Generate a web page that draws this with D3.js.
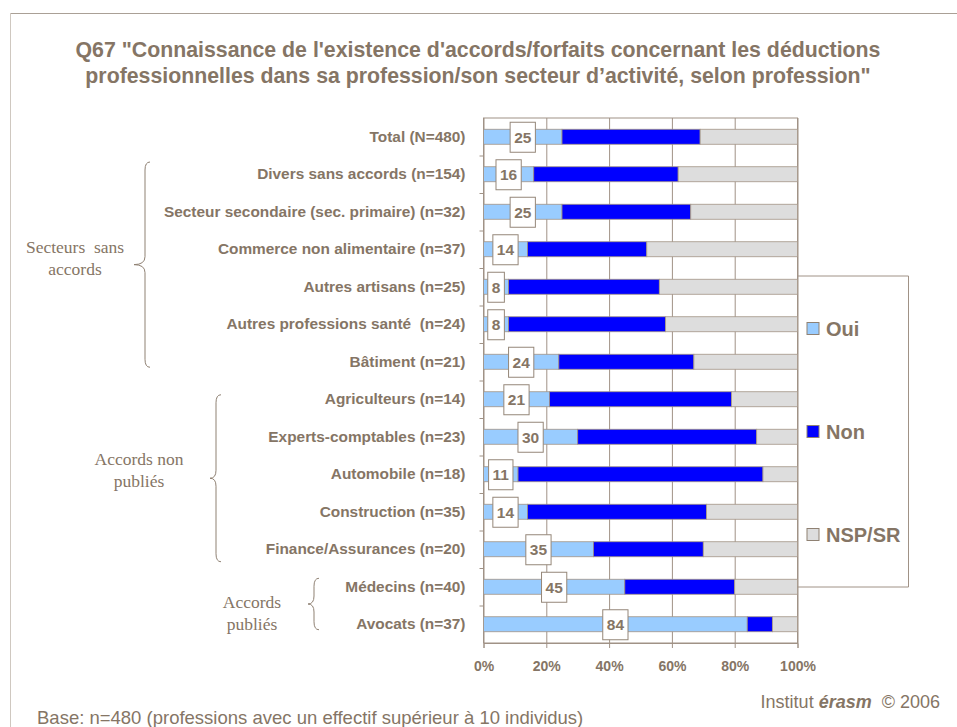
<!DOCTYPE html>
<html>
<head>
<meta charset="utf-8">
<script src="https://cdn.jsdelivr.net/npm/d3@7"></script>
<style>
  body { margin: 0; background: #fff; }
  text { font-family: "Liberation Sans", Arial, sans-serif; white-space: pre; }
</style>
</head>
<body>
<svg id="chart" width="957" height="727"></svg>
<script>
const categories = [
  'Total (N=480)',
  'Divers sans accords (n=154)',
  'Secteur secondaire (sec. primaire) (n=32)',
  'Commerce non alimentaire (n=37)',
  'Autres artisans (n=25)',
  'Autres professions santé  (n=24)',
  'Bâtiment (n=21)',
  'Agriculteurs (n=14)',
  'Experts-comptables (n=23)',
  'Automobile (n=18)',
  'Construction (n=35)',
  'Finance/Assurances (n=20)',
  'Médecins (n=40)',
  'Avocats (n=37)'
];
const oui = [25, 16, 25, 14, 8, 8, 24, 21, 30, 11, 14, 35, 45, 84];
const non = [44, 46, 41, 38, 48, 50, 43, 58, 57, 78, 57, 35, 35, 8];
const nsp = [31, 38, 34, 48, 44, 42, 33, 21, 13, 11, 29, 30, 20, 8];

const seriesKeys = ['oui', 'non', 'nsp'];
const seriesNames = ['Oui', 'Non', 'NSP/SR'];
const seriesColors = ['#99ccff', '#0000ff', '#dddddd'];
const xTicks = [0, 20, 40, 60, 80, 100];

// groupes (accolades à gauche)
const groups = [
  { lines: ['Secteurs  sans', 'accords'], from: 1, to: 6 },
  { lines: ['Accords non', 'publiés'], from: 7, to: 11 },
  { lines: ['Accords', 'publiés'], from: 12, to: 13 }
];

const textColor = '#857565';
const lineColor = '#a09286';

const svg = d3.select('#chart');
const margin = { top: 118, bottom: 643, left: 483.5, right: 797.5 };

const x = d3.scaleLinear().domain([0, 100]).range([margin.left, margin.right]);
const y = d3.scaleBand()
  .domain(categories)
  .range([margin.top, margin.bottom])
  .paddingInner(0.6)
  .paddingOuter(0.3);
const rowScale = d3.scaleLinear().domain([0, categories.length]).range([margin.top, margin.bottom]);

// cadre de la page
svg.append('line').attr('x1', 10).attr('x2', 957).attr('y1', 13.5).attr('y2', 13.5)
  .attr('stroke', '#aaa096').attr('stroke-width', 1);
svg.append('line').attr('x1', 10.5).attr('x2', 10.5).attr('y1', 13).attr('y2', 727)
  .attr('stroke', '#cfc8c0').attr('stroke-width', 1);

// titre
const title = svg.append('text')
  .attr('text-anchor', 'middle')
  .style('font-weight', 'bold')
  .style('font-size', '21.3px')
  .attr('fill', textColor);
title.append('tspan').attr('x', 478).attr('y', 57)
  .text('Q67 "Connaissance de l\'existence d\'accords/forfaits concernant les déductions');
title.append('tspan').attr('x', 478).attr('y', 83)
  .text('professionnelles dans sa profession/son secteur d\u2019activité, selon profession"');

// grille verticale
svg.append('g')
  .attr('transform', `translate(0,${margin.bottom})`)
  .call(d3.axisBottom(x).tickValues(xTicks).tickSize(-(margin.bottom - margin.top)).tickFormat(''))
  .call((g) => g.select('.domain').remove())
  .selectAll('line')
  .attr('stroke', lineColor);

// cadre du graphique
svg.append('rect')
  .attr('x', margin.left).attr('y', margin.top)
  .attr('width', margin.right - margin.left)
  .attr('height', margin.bottom - margin.top)
  .attr('fill', 'none')
  .attr('stroke', lineColor);

// barres empilées
const table = categories.map((c, i) => ({ cat: c, oui: oui[i], non: non[i], nsp: nsp[i] }));
const stacked = d3.stack().keys(seriesKeys)(table);

svg.append('g')
  .selectAll('g')
  .data(stacked)
  .enter()
  .append('g')
  .attr('fill', (d, i) => seriesColors[i])
  .selectAll('rect')
  .data((d) => d)
  .enter()
  .append('rect')
  .attr('x', (d) => x(d[0]))
  .attr('y', (d) => y(d.data.cat))
  .attr('width', (d) => x(d[1]) - x(d[0]))
  .attr('height', y.bandwidth())
  .attr('stroke', '#a39486')
  .attr('stroke-width', 0.8);

// axe X
const xAxis = svg.append('g')
  .attr('transform', `translate(0,${margin.bottom})`)
  .call(d3.axisBottom(x).tickValues(xTicks).tickSize(5).tickPadding(13).tickFormat((d) => d + '%'));
xAxis.selectAll('line, path').attr('stroke', lineColor);
xAxis.selectAll('text')
  .attr('fill', textColor)
  .style('font-family', '"Liberation Sans", Arial, sans-serif')
  .style('font-weight', 'bold')
  .style('font-size', '14px');

// petites graduations à gauche
svg.append('g')
  .attr('transform', `translate(${margin.left},0)`)
  .call(d3.axisLeft(rowScale).tickValues(d3.range(1, categories.length)).tickSize(4).tickFormat(''))
  .call((g) => g.select('.domain').remove())
  .selectAll('line')
  .attr('stroke', lineColor);

// libellés des catégories
const yAxis = svg.append('g')
  .attr('transform', `translate(${margin.left},0)`)
  .call(d3.axisLeft(y).tickSize(0).tickPadding(18));
yAxis.select('.domain').remove();
yAxis.selectAll('text')
  .attr('fill', textColor)
  .style('font-family', '"Liberation Sans", Arial, sans-serif')
  .style('font-weight', 'bold')
  .style('font-size', '15.4px');

// étiquettes des valeurs "Oui"
const labels = svg.append('g')
  .selectAll('g')
  .data(table)
  .enter()
  .append('g')
  .attr('transform', (d) => `translate(${x(d.oui / 2)},${y(d.cat) + y.bandwidth() / 2 + 0.5})`);

labels.append('rect');
labels.append('text')
  .attr('text-anchor', 'middle')
  .attr('dy', '0.36em')
  .attr('fill', textColor)
  .style('font-weight', 'bold')
  .style('font-size', '15.5px')
  .text((d) => d.oui);
labels.each(function () {
  const g = d3.select(this);
  const w = g.select('text').node().getComputedTextLength();
  g.select('rect')
    .attr('x', -w / 2 - 4)
    .attr('y', -15)
    .attr('width', w + 8)
    .attr('height', 30)
    .attr('fill', '#fff')
    .attr('stroke', '#958779')
    .attr('stroke-width', 1);
});

// légende
const legendBox = { x: margin.right, y: 276, w: 111, h: 311 };
svg.append('path')
  .attr('d', `M${legendBox.x},${legendBox.y}H${legendBox.x + legendBox.w}V${legendBox.y + legendBox.h}H${legendBox.x}`)
  .attr('fill', 'none')
  .attr('stroke', lineColor);

const legendY = d3.scalePoint().domain(seriesNames).range([329, 535]);
const legend = svg.append('g')
  .selectAll('g')
  .data(seriesNames)
  .enter()
  .append('g')
  .attr('transform', (d) => `translate(807,${legendY(d)})`);
legend.append('rect')
  .attr('x', 0).attr('y', -6.5)
  .attr('width', 12).attr('height', 12)
  .attr('fill', (d, i) => seriesColors[i])
  .attr('stroke', '#8f8173');
legend.append('text')
  .attr('x', 19)
  .attr('dy', '0.36em')
  .attr('fill', textColor)
  .style('font-weight', 'bold')
  .style('font-size', '20px')
  .text((d) => d);

// accolades
const braceX = [145, 216, 314];
const braceTip = [11, 6, 6];
const braceTopOffset = [-4.75, 3, -1];
const braceBottomOffset = [-2, 5, -2];
const textX = [75, 139, 252];
const textY = [253, 465, 608];
groups.forEach((grp, i) => {
  const top = y(categories[grp.from]) + braceTopOffset[i];
  const bottom = y(categories[grp.to]) + y.bandwidth() + braceBottomOffset[i];
  const mid = (top + bottom) / 2;
  const bx = braceX[i];
  const tip = braceTip[i];
  const c = 8;
  svg.append('path')
    .attr('d', `M${bx + 5},${top} Q${bx},${top} ${bx},${top + c}` +
      ` V${mid - c} Q${bx},${mid} ${bx - tip},${mid}` +
      ` Q${bx},${mid} ${bx},${mid + c} V${bottom - c}` +
      ` Q${bx},${bottom} ${bx + 5},${bottom}`)
    .attr('fill', 'none')
    .attr('stroke', '#8f8173')
    .attr('stroke-width', 1);
  const t = svg.append('text')
    .attr('text-anchor', 'middle')
    .attr('fill', textColor)
    .style('font-family', '"Liberation Serif", "Times New Roman", serif')
    .style('font-size', '17.5px');
  grp.lines.forEach((line, j) => {
    t.append('tspan')
      .attr('x', textX[i])
      .attr('y', textY[i] + j * 22)
      .text(line);
  });
});

// textes du bas
svg.append('text')
  .attr('x', 940).attr('y', 708)
  .attr('text-anchor', 'end')
  .attr('fill', textColor)
  .style('font-size', '18px')
  .html('Institut <tspan font-weight="bold" font-style="italic">érasm</tspan>  \u00a9 2006');

svg.append('text')
  .attr('x', 37).attr('y', 724)
  .attr('fill', textColor)
  .style('font-size', '18.5px')
  .text('Base: n=480 (professions avec un effectif supérieur à 10 individus)');
</script>
</body>
</html>
